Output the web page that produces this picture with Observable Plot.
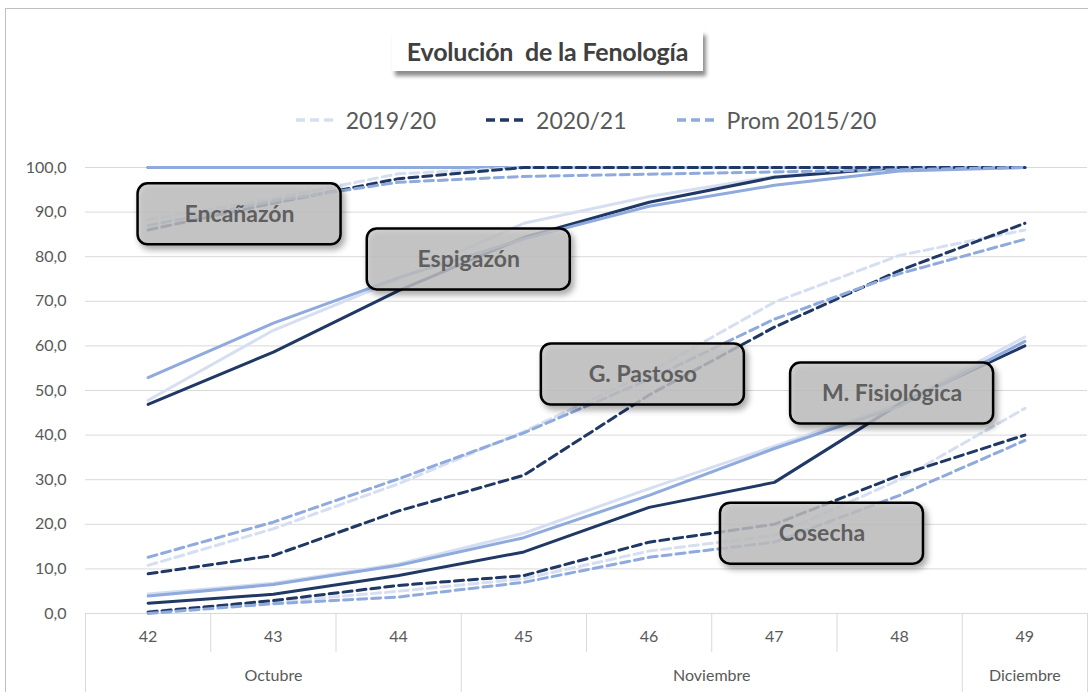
<!DOCTYPE html>
<html>
<head>
<meta charset="utf-8">
<script src="https://cdn.jsdelivr.net/npm/d3@7"></script>
<script src="https://cdn.jsdelivr.net/npm/@observablehq/plot@0.6"></script>
<style>
  html, body { margin: 0; padding: 0; background: #fff; }
  #wrap { position: relative; width: 1088px; height: 692px; overflow: hidden; font-family: Lato, "Open Sans", sans-serif; }
  #frameLine { position: absolute; left: 5px; top: 8px; right: -2px; bottom: -2px; border-left: 1px solid #bfbfbf; border-top: 1px solid #bfbfbf; }
  #title { position: absolute; left: 392px; top: 30px; width: 311px; height: 41px; background: #fff;
           box-shadow: 3px 5px 4px rgba(0,0,0,0.45); display: flex; align-items: center; justify-content: center;
           font-weight: bold; font-size: 25px; color: #404040; white-space: pre; letter-spacing: -0.2px; }
  #legend { position: absolute; top: 105px; left: 85px; width: 1002px; height: 30px; display: flex;
            justify-content: center; align-items: center; gap: 50px; font-size: 23px; color: #595959; }
  .item { display: flex; align-items: center; }
  .item svg { margin-right: 10px; }
  #chart { position: absolute; left: 0; top: 140px; }
</style>
</head>
<body>
<div id="wrap">
  <div id="frameLine"></div>
  <div id="title"></div>
  <div id="legend"></div>
  <div id="chart"></div>
</div>
<script>
// ---- data ----
const weeks = [42, 43, 44, 45, 46, 47, 48, 49];
const months = [
  {name: "Octubre", from: 42, to: 44},
  {name: "Noviembre", from: 45, to: 48},
  {name: "Diciembre", from: 49, to: 49}
];
const seasons = ["2019/20", "2020/21", "Prom 2015/20"];
const yTicks = [0, 10, 20, 30, 40, 50, 60, 70, 80, 90, 100];
const titleText = "Evolución  de la Fenología";

// stage (unlabeled, at 100 %) - solid
const etapaPrevia_1920 = [100, 100, 100, 100, 100, 100, 100, 100];
const etapaPrevia_2021 = [100, 100, 100, 100, 100, 100, 100, 100];
const etapaPrevia_prom = [100, 100, 100, 100, 100, 100, 100, 100];
// Encañazón - dashed
const encanazon_1920 = [88.3, 93.0, 98.6, 100, 100, 100, 100, 100];
const encanazon_2021 = [86.0, 92.0, 97.5, 100, 100, 100, 100, 100];
const encanazon_prom = [87.0, 92.5, 96.7, 98.0, 98.5, 99.0, 99.5, 100];
// Espigazón - solid
const espigazon_1920 = [47.8, 63.5, 75.0, 87.5, 93.5, 98.0, 100, 100];
const espigazon_2021 = [46.9, 58.6, 72.4, 84.3, 92.2, 97.8, 100, 100];
const espigazon_prom = [52.9, 65.1, 75.3, 84.0, 91.3, 96.0, 99.2, 100];
// G. Pastoso - dashed
const pastoso_1920 = [10.8, 19.0, 29.1, 40.8, 54.0, 69.8, 80.3, 86.0];
const pastoso_2021 = [8.9, 13.0, 23.0, 31.0, 49.0, 64.2, 76.9, 87.5];
const pastoso_prom = [12.6, 20.5, 30.2, 40.5, 52.5, 66.0, 76.2, 83.9];
// M. Fisiológica - solid
const fisiologica_1920 = [4.4, 6.8, 11.1, 18.0, 28.0, 37.5, 47.0, 62.0];
const fisiologica_2021 = [2.3, 4.3, 8.5, 13.8, 23.8, 29.4, 47.0, 60.0];
const fisiologica_prom = [3.9, 6.5, 10.8, 17.0, 26.5, 37.0, 46.5, 61.0];
// Cosecha - dashed
const cosecha_1920 = [0.5, 2.5, 5.0, 7.8, 14.0, 17.5, 30.0, 46.0];
const cosecha_2021 = [0.3, 2.9, 6.3, 8.5, 16.0, 20.0, 31.0, 40.0];
const cosecha_prom = [0.0, 2.2, 3.7, 7.0, 12.6, 16.0, 26.5, 38.8];

// annotation labels anchored in data coordinates (week, %)
const labelNames = ["Encañazón", "Espigazón", "G. Pastoso", "M. Fisiológica", "Cosecha"];
const labelWeeks = [42.73, 44.56, 45.95, 47.94, 47.38];
const labelValues = [89.5, 79.4, 53.6, 49.3, 17.9];

// ---- build table ----
const stageSeries = [
  {stage: "Etapa previa", dashed: false, values: [etapaPrevia_1920, etapaPrevia_2021, etapaPrevia_prom]},
  {stage: "Encañazón", dashed: true, values: [encanazon_1920, encanazon_2021, encanazon_prom]},
  {stage: "Espigazón", dashed: false, values: [espigazon_1920, espigazon_2021, espigazon_prom]},
  {stage: "G. Pastoso", dashed: true, values: [pastoso_1920, pastoso_2021, pastoso_prom]},
  {stage: "M. Fisiológica", dashed: false, values: [fisiologica_1920, fisiologica_2021, fisiologica_prom]},
  {stage: "Cosecha", dashed: true, values: [cosecha_1920, cosecha_2021, cosecha_prom]}
];
const rows = [];
seasons.forEach((season, k) => {
  stageSeries.forEach(s => {
    weeks.forEach((w, i) => rows.push({stage: s.stage, season, dashed: s.dashed, week: w, value: s.values[k][i]}));
  });
});
const labels = labelNames.map((name, i) => ({name, week: labelWeeks[i], value: labelValues[i]}));

const colors = ["#d6dff2", "#203864", "#8faadc"];
const DASH = "9,5";

// month and week separators
const monthBounds = months.map(m => m.from - 0.5).concat([months[months.length - 1].to + 0.5]);
const weekBounds = weeks.slice(1).map(w => w - 0.5).filter(b => !monthBounds.includes(b));

// ---- header ----
document.getElementById("title").textContent = titleText;
const legend = d3.select("#legend");
seasons.forEach((s, i) => {
  const it = legend.append("div").attr("class", "item");
  const sv = it.append("svg").attr("width", 40).attr("height", 6);
  sv.append("line").attr("x1", 0).attr("x2", 40).attr("y1", 3).attr("y2", 3)
    .attr("stroke", colors[i]).attr("stroke-width", 3.5).attr("stroke-dasharray", DASH);
  it.append("span").text(s);
});

// ---- plot ----
const H = 552, MT = 27, MB = 79;
const frameH = H - MT - MB;
const fmt = d => d.toFixed(1).replace(".", ",");

const chart = Plot.plot({
  width: 1088,
  height: H,
  marginLeft: 85,
  marginRight: 1,
  marginTop: MT,
  marginBottom: MB,
  style: {fontFamily: "Lato, 'Open Sans', sans-serif", fontSize: "16px", color: "#595959", background: "transparent", overflow: "visible"},
  x: {domain: [41.5, 49.5], axis: null},
  y: {domain: [0, 100], ticks: yTicks, tickFormat: fmt, tickSize: 0, tickPadding: 19, label: null},
  color: {domain: seasons, range: colors},
  marks: [
    Plot.ruleY(yTicks, {stroke: "#d9d9d9", strokeWidth: 1}),
    Plot.ruleX(weekBounds, {x: d => d, stroke: "#d9d9d9", insetTop: frameH, insetBottom: -39}),
    Plot.ruleX(monthBounds, {x: d => d, stroke: "#d9d9d9", insetTop: frameH, insetBottom: -MB}),
    Plot.text(weeks, {x: d => d, frameAnchor: "bottom", dy: 28, text: d => String(d), fill: "#595959"}),
    Plot.text(months, {x: d => (d.from + d.to) / 2, frameAnchor: "bottom", dy: 67, text: "name", fill: "#595959"}),
    Plot.line(rows.filter(d => !d.dashed), {x: "week", y: "value", z: d => d.season + d.stage, stroke: "season",
      strokeWidth: 3, strokeLinejoin: "round", strokeLinecap: "round"}),
    Plot.line(rows.filter(d => d.dashed), {x: "week", y: "value", z: d => d.season + d.stage, stroke: "season",
      strokeWidth: 3, strokeDasharray: DASH, strokeLinejoin: "round"}),
    Plot.rect(labels, {x1: "week", x2: "week", y1: "value", y2: "value",
      insetLeft: -101.5, insetRight: -101.5, insetTop: -30.5, insetBottom: -30.5,
      rx: 10, fill: "#c8c8c8", fillOpacity: 0.8, stroke: "#000", strokeWidth: 2.5}),
    Plot.text(labels, {x: "week", y: "value", text: "name", fontWeight: "bold", fontSize: 23, fill: "#5f5f5f"})
  ]
});
document.getElementById("chart").appendChild(chart);
d3.select(chart).selectAll('g[aria-label="rect"] rect')
  .style("filter", "drop-shadow(3px 4px 3px rgba(0,0,0,0.4))");
</script>
</body>
</html>
